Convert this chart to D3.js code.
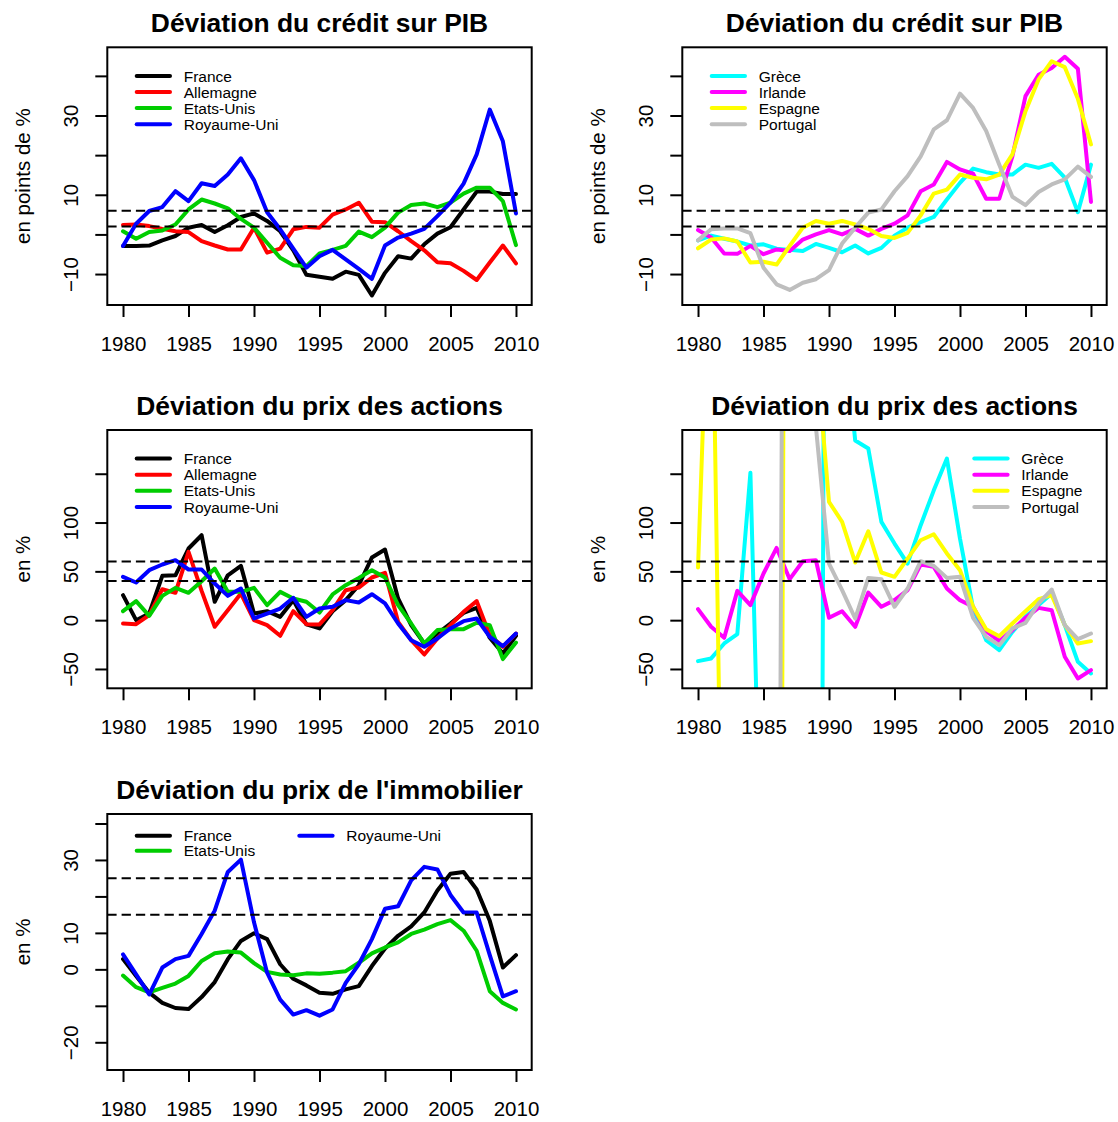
<!DOCTYPE html>
<html>
<head>
<meta charset="utf-8">
<script src="https://cdn.jsdelivr.net/npm/d3@7"></script>
<style>
  body { margin: 0; background: #fff; }
  svg text { font-family: "Liberation Sans", Arial, Helvetica, sans-serif; fill: #000; }
</style>
</head>
<body>
<svg id="chart" width="1118" height="1122"></svg>
<script>
// ---- Years on the x axis ----
const years = [1980,1981,1982,1983,1984,1985,1986,1987,1988,1989,1990,
               1991,1992,1993,1994,1995,1996,1997,1998,1999,2000,
               2001,2002,2003,2004,2005,2006,2007,2008,2009,2010];
const xTicks = [1980,1985,1990,1995,2000,2005,2010];

// ---- Credit-to-GDP gap (percentage points) ----
const creditFrance     = [-2.9,-2.9,-2.8,-1.5,-0.4,1.7,2.4,0.6,2.3,4.4,5.3,3.4,0.8,-4.0,-10.2,-10.7,-11.2,-9.4,-10.2,-15.4,-9.7,-5.5,-6.1,-2.5,0.2,1.8,6.3,10.8,10.8,10.2,10.2];
const creditAllemagne  = [2.4,2.5,2.1,1.4,0.8,0.6,-1.7,-2.8,-3.8,-3.8,1.7,-4.6,-3.6,1.3,1.9,1.7,5.0,6.3,8.0,3.2,3.1,0.8,-1.7,-4.0,-7.0,-7.3,-9.2,-11.5,-7.1,-2.8,-7.3];
const creditEtatsUnis  = [0.8,-1.1,0.6,1.0,2.5,6.3,8.8,7.8,6.6,3.9,1.7,-2.1,-5.9,-7.8,-8.0,-4.8,-3.9,-2.9,0.7,-0.7,1.7,5.5,7.4,7.8,6.9,8.0,10.3,11.8,11.8,8.4,-2.7];
const creditRoyaumeUni = [-2.9,2.7,5.9,6.9,10.9,8.4,12.9,12.2,15.1,19.2,13.7,5.6,1.3,-3.6,-8.4,-5.5,-3.9,-6.3,-8.7,-11.2,-2.8,-0.8,0.2,1.4,4.6,8.0,12.8,20.2,31.5,23.5,5.3];
const creditGrece      = [-1.5,-0.3,-1.1,-1.8,-2.8,-2.5,-3.6,-3.9,-4.2,-2.4,-3.4,-4.5,-2.8,-4.8,-3.4,-0.3,1.7,3.1,4.4,8.8,13.0,16.6,15.7,15.1,15.1,17.6,16.8,17.8,14.3,5.6,17.6];
const creditIrlande    = [1.1,-0.8,-4.8,-4.9,-2.9,-5.0,-3.8,-4.2,-1.3,0.0,1.1,0.0,1.4,-0.3,1.4,2.7,4.8,10.9,12.6,18.3,16.4,15.3,9.0,9.0,19.7,34.9,40.3,42.0,44.8,41.8,8.2];
const creditEspagne    = [-3.5,-1.3,-1.0,-1.8,-7.1,-6.9,-7.6,-2.9,1.7,3.4,2.7,3.4,2.5,1.4,-0.4,-0.9,0.4,4.8,10.3,11.3,15.1,14.3,13.9,15.1,20.2,31.1,39.1,43.7,42.2,34.2,22.7];
const creditPortugal   = [-1.5,1.3,1.5,1.5,0.3,-8.4,-12.6,-14.0,-12.2,-11.3,-9.0,-2.3,1.7,5.5,6.3,10.9,14.7,19.7,26.5,28.8,35.5,31.9,26.1,17.6,9.5,7.4,10.7,12.6,13.9,17.1,14.5];
const creditLim        = [-15.4, 44.8];
const creditTicks      = [-10, 0, 10, 20, 30, 40];
const creditTickLabels = [-10, 10, 30];
const creditThresholds = [2, 6];

// ---- Stock price gap (%) ----
const actionsFrance     = [25.6,0,6.8,45.4,46,73.4,87,18.8,46,55.6,6.8,9.2,3.4,20.5,-4.4,-8.5,9.2,20.5,35.8,64.2,72.4,22.2,-5.1,-23.9,-13.7,-3.4,7.5,12.6,-18.1,-34.1,-16];
const actionsAllemagne  = [-3.4,-4.1,5.1,31.7,28,70,30,-6.8,10.2,27.3,0,-5.1,-16,9.2,-4.1,-4.4,10.2,30.7,33.4,43.7,48.5,-1.7,-20.5,-35.2,-18.8,-5.1,8.5,19.5,-15.4,-27.3,-13.7];
const actionsEtatsUnis  = [9.2,19.5,4.4,24.9,33.1,28,39.9,52.9,29,29,33.1,15.4,29,22.2,18.8,7.8,26.3,35.8,43.3,51.2,43.7,15.4,-3.4,-23.9,-10.2,-9.2,-9.2,-2.7,-5.1,-39.9,-22.9];
const actionsRoyaumeUni = [44.4,38.6,51.2,57,61.4,51.9,51.9,37.5,24.9,32.4,1.7,6.8,11.9,22.9,3.4,11.9,13.7,20.5,18.1,26.6,17.1,-3.4,-20.5,-27.3,-18.8,-8.5,-1,1.7,-17.1,-26.6,-13.7];
const actionsGrece      = [-42,-39.2,-23.9,-14.3,151,-355,-420,-380,-450,-1800,1600,320,184,175.8,100.7,78.5,58,97.3,133,165.5,83.6,12,-20.5,-30.7,-12,3.4,15.4,27.3,-5.1,-42.7,-54.6];
const actionsIrlande    = [11.3,-6.8,-18.1,30,15.4,47.8,74,42,60.4,61.4,2.4,9.2,-6.8,28.3,13.7,20.5,30.7,57,54.6,32.4,20.5,13.7,-11.3,-21.5,-10.2,2.4,12.6,10.2,-37.5,-59.7,-51.2];
const actionsEspagne    = [54,440,-420,-300,-350,-280,-1500,1800,600,280,121.2,100.7,59,91.1,48.8,44.4,63.1,81.9,88,68.3,51.2,13.7,-9.2,-16.4,-3.4,9.2,21.5,25.6,-5.1,-23.9,-21.5];
const actionsPortugal   = [null,null,null,null,null,null,-900,1900,700,198,58,30.7,1.7,43.3,42,13.7,32.4,60.4,55.6,43.3,44.4,2.4,-17.1,-25.6,-8.5,-2.7,17.1,31.4,-5.1,-19.5,-13.7];
const actionsLim        = [-60, 185];
const actionsTicks      = [-50, 0, 50, 100, 150];
const actionsTickLabels = [-50, 0, 50, 100];
const actionsThresholds = [40, 60];

// ---- House price gap (%) ----
const immoFrance     = [2.8,-1.8,-6.4,-9.2,-10.6,-10.9,-7.6,-3.5,2.8,7.8,9.9,8.3,1.4,-2.6,-4.4,-6.4,-6.7,-5.5,-4.6,0.9,5.7,9.2,11.8,15.6,21.6,26.2,26.7,21.9,13.3,0.5,3.9];
const immoEtatsUnis  = [-1.7,-4.9,-6.3,-5.1,-3.9,-1.8,2.3,4.4,4.9,4.6,1.7,-0.7,-1.4,-1.6,-1.1,-1.2,-0.9,-0.5,1.8,4.4,6,7.4,9.7,10.9,12.4,13.5,10.6,5.1,-6,-9.2,-11];
const immoRoyaumeUni = [4.1,-1.4,-6.9,0.5,2.8,3.7,9.7,16.1,26.7,30.1,12.9,-0.9,-8.3,-12.4,-11.2,-12.7,-11,-3.7,1.4,8.3,16.6,17.3,24.4,28.1,27.4,20.4,15.6,15.6,3.9,-7.4,-6];
const immoLim        = [-25, 40];
const immoTicks      = [-20, -10, 0, 10, 20, 30, 40];
const immoTickLabels = [-20, 0, 10, 30];
const immoThresholds = [15, 25];

// ---- Country colours ----
const colors = {
  "France": "#000000", "Allemagne": "#FF0000", "Etats-Unis": "#00CD00", "Royaume-Uni": "#0000FF",
  "Grèce": "#00FFFF", "Irlande": "#FF00FF", "Espagne": "#FFFF00", "Portugal": "#BEBEBE"
};

// ---- Panel layout ----
const colLeft = [107.3, 682.3];
const rowTop = [47.3, 430, 814];
const rowHeight = [257.7, 258.3, 256];
const boxWidth = 424.4;

const panels = [
  { col: 0, row: 0, title: "Déviation du crédit sur PIB", ylab: "en points de %",
    lim: creditLim, ticks: creditTicks, labels: creditTickLabels, thresholds: creditThresholds,
    series: [["France", creditFrance], ["Allemagne", creditAllemagne], ["Etats-Unis", creditEtatsUnis], ["Royaume-Uni", creditRoyaumeUni]],
    legend: "topleft" },
  { col: 1, row: 0, title: "Déviation du crédit sur PIB", ylab: "en points de %",
    lim: creditLim, ticks: creditTicks, labels: creditTickLabels, thresholds: creditThresholds,
    series: [["Grèce", creditGrece], ["Irlande", creditIrlande], ["Espagne", creditEspagne], ["Portugal", creditPortugal]],
    legend: "topleft" },
  { col: 0, row: 1, title: "Déviation du prix des actions", ylab: "en %",
    lim: actionsLim, ticks: actionsTicks, labels: actionsTickLabels, thresholds: actionsThresholds,
    series: [["France", actionsFrance], ["Allemagne", actionsAllemagne], ["Etats-Unis", actionsEtatsUnis], ["Royaume-Uni", actionsRoyaumeUni]],
    legend: "topleft" },
  { col: 1, row: 1, title: "Déviation du prix des actions", ylab: "en %",
    lim: actionsLim, ticks: actionsTicks, labels: actionsTickLabels, thresholds: actionsThresholds,
    series: [["Grèce", actionsGrece], ["Irlande", actionsIrlande], ["Espagne", actionsEspagne], ["Portugal", actionsPortugal]],
    legend: "topright" },
  { col: 0, row: 2, title: "Déviation du prix de l'immobilier", ylab: "en %",
    lim: immoLim, ticks: immoTicks, labels: immoTickLabels, thresholds: immoThresholds,
    series: [["France", immoFrance], ["Etats-Unis", immoEtatsUnis], ["Royaume-Uni", immoRoyaumeUni]],
    legend: "twocol" }
];

const svg = d3.select("#chart");
const fmt = d3.format("d");

// R-style axis extension: 4% on both sides of the limits
function extend(lim) {
  const pad = (lim[1] - lim[0]) * 0.04;
  return [lim[0] - pad, lim[1] + pad];
}

panels.forEach((p, idx) => {
  const left = colLeft[p.col], top = rowTop[p.row];
  const width = boxWidth, height = rowHeight[p.row];
  const right = left + width, bottom = top + height;

  const x = d3.scaleLinear().domain(extend([years[0], years[years.length - 1]])).range([left, right]);
  const y = d3.scaleLinear().domain(extend(p.lim)).range([bottom, top]);

  const g = svg.append("g");

  const clipId = "clip" + idx;
  g.append("clipPath").attr("id", clipId)
    .append("rect").attr("x", left).attr("y", top).attr("width", width).attr("height", height);

  // series lines
  const line = d3.line()
    .defined(d => d.v !== null)
    .x(d => x(d.year))
    .y(d => y(d.v));

  g.append("g").attr("clip-path", `url(#${clipId})`)
    .selectAll("path.series")
    .data(p.series)
    .join("path")
      .attr("class", "series")
      .attr("fill", "none")
      .attr("stroke", d => colors[d[0]])
      .attr("stroke-width", 4)
      .attr("stroke-linejoin", "round")
      .attr("stroke-linecap", "round")
      .attr("d", d => line(years.map((yr, i) => ({ year: yr, v: d[1][i] }))));

  // horizontal thresholds
  g.append("g").selectAll("line.thr")
    .data(p.thresholds)
    .join("line")
      .attr("x1", left).attr("x2", right)
      .attr("y1", d => y(d)).attr("y2", d => y(d))
      .attr("stroke", "#000").attr("stroke-width", 2)
      .attr("stroke-dasharray", "9.3,5");

  // frame
  g.append("rect")
    .attr("x", left).attr("y", top).attr("width", width).attr("height", height)
    .attr("fill", "none").attr("stroke", "#000").attr("stroke-width", 2);

  // x axis
  const xAxis = g.append("g")
    .attr("transform", `translate(0,${bottom})`)
    .call(d3.axisBottom(x).tickValues(xTicks).tickSize(12).tickSizeOuter(0).tickFormat(fmt));
  xAxis.select(".domain").remove();
  xAxis.selectAll(".tick line").attr("stroke-width", 2);
  xAxis.selectAll(".tick text")
    .attr("y", 45.7).attr("dy", null)
    .style("font-size", "20.5px")
    .attr("fill", "#000");

  // y axis, labels rotated as in base graphics
  const yAxis = g.append("g")
    .attr("transform", `translate(${left},0)`)
    .call(d3.axisLeft(y).tickValues(p.ticks).tickSize(12).tickSizeOuter(0)
      .tickFormat(v => p.labels.includes(v) ? d3.format("d")(v) : ""));
  yAxis.select(".domain").remove();
  yAxis.selectAll(".tick line").attr("stroke-width", 2);
  yAxis.selectAll(".tick text")
    .attr("x", null).attr("dy", null)
    .attr("transform", "translate(-29.8,0) rotate(-90)")
    .attr("text-anchor", "middle")
    .style("font-size", "20.5px")
    .attr("fill", "#000");

  // y axis title
  g.append("text")
    .attr("transform", `translate(${left - 77.3},${(top + bottom) / 2}) rotate(-90)`)
    .attr("text-anchor", "middle")
    .style("font-size", "20.5px")
    .text(p.ylab);

  // panel title
  g.append("text")
    .attr("x", (left + right) / 2).attr("y", top - 15)
    .attr("text-anchor", "middle")
    .style("font-size", "26.4px").style("font-weight", "bold")
    .text(p.title);

  // legend
  let items;
  if (p.legend === "topleft") {
    items = p.series.map((s, i) => ({ name: s[0], lx: left + 29.4, ly: top + 28.6 + i * 16.1 }));
  } else if (p.legend === "topright") {
    items = p.series.map((s, i) => ({ name: s[0], lx: right - 132.4, ly: top + 28.6 + i * 16.1 }));
  } else {
    const nrow = 2;
    items = p.series.map((s, i) => ({
      name: s[0],
      lx: left + 29.4 + Math.floor(i / nrow) * 162.6,
      ly: top + 21.7 + (i % nrow) * 15
    }));
  }
  const leg = g.append("g").selectAll("g.item").data(items).join("g").attr("class", "item");
  leg.append("line")
    .attr("x1", d => d.lx).attr("x2", d => d.lx + 33.3)
    .attr("y1", d => d.ly).attr("y2", d => d.ly)
    .attr("stroke", d => colors[d.name]).attr("stroke-width", 4).attr("stroke-linecap", "round");
  leg.append("text")
    .attr("x", d => d.lx + 47).attr("y", d => d.ly + 5.6)
    .style("font-size", "15.5px")
    .text(d => d.name);
});
</script>
</body>
</html>
